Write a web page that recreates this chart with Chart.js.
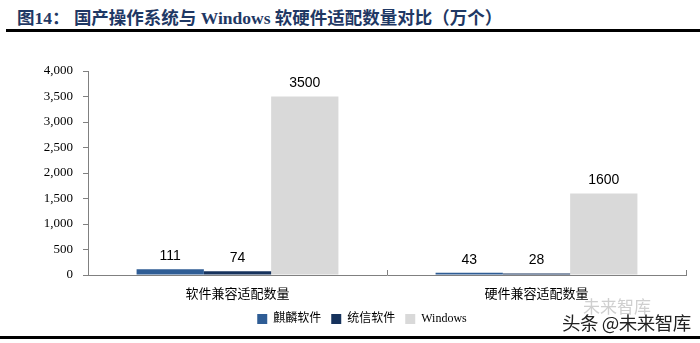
<!DOCTYPE html>
<html>
<head>
<meta charset="utf-8">
<script src="https://cdn.jsdelivr.net/npm/chart.js@4.4.1/dist/chart.umd.min.js"></script>
<style>
  body { margin: 0; background: #fff; }
  #wrap { position: relative; width: 700px; height: 343px; overflow: hidden; background: #fff; }
  #title { position: absolute; left: 17px; top: 4px; font: bold 17.5px "Liberation Serif", "Noto Sans CJK SC", serif; color: #1f3864; white-space: nowrap; }
  #title .cn { font-family: "Noto Sans CJK SC", sans-serif; }
  .rule { position: absolute; left: 6px; right: 0; height: 3px; background: #000; }
  #mark1 { position: absolute; left: 583px; top: 293px; font: 17px "Noto Sans CJK SC", sans-serif; color: #cfcfcf; }
  #mark2 { position: absolute; left: 562px; top: 309px; font: 18.5px "Noto Sans CJK SC", sans-serif; color: #222; letter-spacing: -0.5px; }
  canvas { position: absolute; left: 0; top: 0; }
</style>
</head>
<body>
<div id="wrap">
  <div id="title"><span class="cn">图</span>14<span class="cn">：</span> <span class="cn">国产操作系统与</span> Windows <span class="cn">软硬件适配数量对比（万个）</span></div>
  <div class="rule" style="top:29px"></div>
  <canvas id="chart" width="700" height="343"></canvas>
  <div id="mark1">未来智库</div>
  <div id="mark2">头条 @未来智库</div>
  <div class="rule" style="top:336px; left:0"></div>
</div>
<script>
// categories and series
const categories = ["软件兼容适配数量", "硬件兼容适配数量"];
const kylin = [111, 43];      // 麒麟软件
const uos = [74, 28];         // 统信软件
const windows = [3500, 1600]; // Windows
const yTicks = [0, 500, 1000, 1500, 2000, 2500, 3000, 3500, 4000];

const serif = '"Liberation Serif", "Noto Sans CJK SC", serif';
const cjk = '"Noto Sans CJK SC", sans-serif';

// value labels above the bars
const valueLabels = {
  id: "valueLabels",
  afterDatasetsDraw(chart) {
    const ctx = chart.ctx;
    ctx.save();
    ctx.font = '14px "Liberation Sans", Arial, sans-serif';
    ctx.fillStyle = "#000";
    ctx.textAlign = "center";
    ctx.textBaseline = "bottom";
    chart.data.datasets.forEach((ds, i) => {
      chart.getDatasetMeta(i).data.forEach((bar, j) => {
        ctx.fillText(String(ds.data[j]), bar.x, bar.y - 6);
      });
    });
    ctx.restore();
  }
};

// small upward tick marks between categories on the x axis
const xTicks = {
  id: "xTicks",
  afterDraw(chart) {
    const x = chart.scales.x, a = chart.chartArea, ctx = chart.ctx;
    ctx.save();
    ctx.strokeStyle = "#808080";
    ctx.lineWidth = 1;
    for (let i = 1; i <= categories.length; i++) {
      const px = Math.round(x.left + (x.width / categories.length) * i) + 0.5;
      ctx.beginPath();
      ctx.moveTo(px, a.bottom);
      ctx.lineTo(px, a.bottom - 5);
      ctx.stroke();
    }
    ctx.restore();
  }
};

new Chart(document.getElementById("chart"), {
  type: "bar",
  data: {
    labels: categories,
    datasets: [
      { label: "麒麟软件", data: kylin, backgroundColor: "#2f5d95" },
      { label: "统信软件", data: uos, backgroundColor: "#16325c" },
      { label: "Windows", data: windows, backgroundColor: "#d9d9d9" }
    ]
  },
  options: {
    responsive: false,
    animation: false,
    layout: { padding: { top: 71, right: 14, bottom: 8, left: 38 } },
    datasets: { bar: { categoryPercentage: 0.675, barPercentage: 1 } },
    scales: {
      x: {
        grid: { display: false, drawTicks: false },
        border: { color: "#808080" },
        ticks: { color: "#000", padding: 10, font: { family: cjk, size: 13 } },
        afterFit(s) { s.height = 28; }
      },
      y: {
        min: 0, max: 4000,
        afterBuildTicks(s) { s.ticks = yTicks.map(v => ({ value: v })); },
        grid: { drawOnChartArea: false, tickLength: 5, color: "#808080" },
        border: { color: "#808080" },
        ticks: {
          color: "#000", padding: 10,
          font: { family: serif, size: 13 },
          callback: v => v.toLocaleString("en-US")
        },
        afterFit(s) { s.width = 50; }
      }
    },
    plugins: {
      legend: {
        position: "bottom",
        labels: {
          boxWidth: 10, boxHeight: 10, color: "#000", padding: 10,
          font: { family: serif, size: 12 }
        }
      },
      tooltip: { enabled: false }
    }
  },
  plugins: [valueLabels, xTicks]
});
</script>
</body>
</html>
